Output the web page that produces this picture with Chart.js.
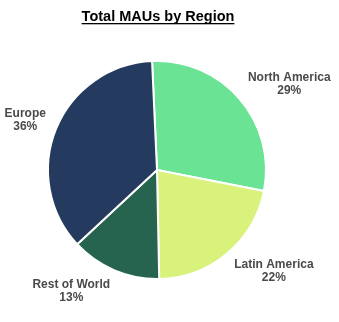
<!DOCTYPE html>
<html>
<head>
<meta charset="utf-8">
<script src="https://cdn.jsdelivr.net/npm/chart.js@4"></script>
<style>
  html, body { margin: 0; padding: 0; background: #ffffff; }
  #wrap { width: 339px; height: 322px; }
</style>
</head>
<body>
<div id="wrap"><canvas id="mauPie" width="339" height="322"></canvas></div>
<script>
// --- data ---
const regions = ['North America', 'Latin America', 'Rest of World', 'Europe'];
const mauShare = [28.8, 21.6, 13.4, 36.2];
const sliceColors = ['#6be394', '#d8f27b', '#276450', '#243a5e'];
const chartTitle = 'Total MAUs by Region';

// title with underline, drawn by hand (Chart.js title has no underline)
const underlinedTitle = {
    id: 'underlinedTitle',
    afterDraw(chart) {
        const ctx = chart.ctx;
        ctx.save();
        ctx.font = 'bold 14.5px "Liberation Sans", Arial, sans-serif';
        ctx.fillStyle = '#000000';
        ctx.textAlign = 'center';
        ctx.textBaseline = 'alphabetic';
        const cx = 158, base = 21;
        ctx.fillText(chartTitle, cx, base);
        const w = ctx.measureText(chartTitle).width;
        ctx.fillRect(cx - w / 2, base + 2, w, 1.3);
        ctx.restore();
    }
};

// outside labels: "name" over "pct%"
const outsideLabels = {
    id: 'outsideLabels',
    afterDatasetsDraw(chart) {
        const ctx = chart.ctx;
        const meta = chart.getDatasetMeta(0);
        const data = chart.data.datasets[0].data;
        const total = data.reduce((a, b) => a + b, 0);
        ctx.save();
        ctx.font = 'bold 12px "Liberation Sans", Arial, sans-serif';
        ctx.fillStyle = '#4a4a4a';
        ctx.textAlign = 'center';
        ctx.textBaseline = 'middle';
        meta.data.forEach(function (arc, i) {
            const mid = (arc.startAngle + arc.endAngle) / 2;
            const r = arc.outerRadius + 11;
            const ax = arc.x + Math.cos(mid) * r;
            const ay = arc.y + Math.sin(mid) * r;
            const line1 = chart.data.labels[i];
            const line2 = Math.round(data[i] / total * 100) + '%';
            const hw = ctx.measureText(line1).width / 2;
            const hh = 12;
            const cx = ax + Math.sign(Math.cos(mid)) * hw;
            const cy = ay + Math.sin(mid) * hh;
            ctx.fillText(line1, cx, cy - 6.5);
            ctx.fillText(line2, cx, cy + 6.5);
        });
        ctx.restore();
    }
};

new Chart(document.getElementById('mauPie'), {
    type: 'pie',
    data: {
        labels: regions,
        datasets: [{
            data: mauShare,
            backgroundColor: sliceColors,
            borderColor: '#ffffff',
            borderWidth: 2
        }]
    },
    options: {
        responsive: false,
        animation: false,
        rotation: -2.6,
        layout: {
            padding: { top: 60, bottom: 42, left: 47, right: 72 }
        },
        plugins: {
            legend: { display: false },
            title: { display: false },
            tooltip: { enabled: false }
        }
    },
    plugins: [underlinedTitle, outsideLabels]
});
</script>
</body>
</html>
